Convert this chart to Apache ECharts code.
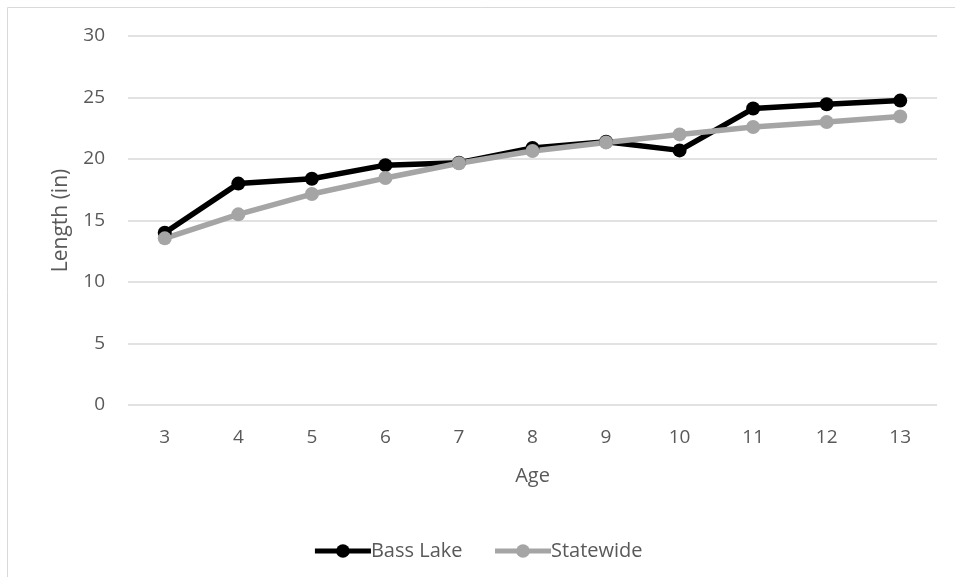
<!DOCTYPE html>
<html>
<head>
<meta charset="utf-8">
<script src="https://cdn.jsdelivr.net/npm/echarts@6/dist/echarts.min.js"></script>
<style>html,body{margin:0;padding:0;background:#fff;}#c{width:955px;height:577px;}</style>
</head>
<body>
<div id="c"></div>
<script>
var ages = ['3','4','5','6','7','8','9','10','11','12','13'];
var bassLake = [14.0, 18.0, 18.4, 19.5, 19.7, 20.9, 21.4, 20.7, 24.1, 24.45, 24.75];
var statewide = [13.55, 15.5, 17.15, 18.45, 19.65, 20.65, 21.35, 22.0, 22.6, 23.0, 23.45];
var yTicks = {min: 0, max: 30, interval: 5};

var FONT = 'Open Sans';
var TXT = '#595959';
var chart = echarts.init(document.getElementById('c'), null, {renderer: 'canvas'});
chart.setOption({
  backgroundColor: '#fff',
  animation: false,
  textStyle: {fontFamily: FONT, color: TXT},
  graphic: [{
    type: 'rect', shape: {x: 7.5, y: 7.5, width: 2000, height: 2000},
    style: {fill: 'none', stroke: '#d9d9d9', lineWidth: 1}, silent: true, z: -10
  }],
  grid: {left: 128, right: 18, top: 36, bottom: 172},
  legend: {
    bottom: 11, left: 'center', itemWidth: 56, itemHeight: 17, itemGap: 30,
    lineStyle: {width: 5},
    textStyle: {fontFamily: FONT, fontSize: 20, color: TXT, padding: [0, 0, 0, -5]},
    data: ['Bass Lake', 'Statewide']
  },
  xAxis: {
    type: 'category', data: ages, boundaryGap: true,
    name: 'Age', nameLocation: 'middle', nameGap: 61,
    nameTextStyle: {fontFamily: FONT, fontSize: 20, color: TXT},
    axisLine: {show: false}, axisTick: {show: false},
    axisLabel: {fontFamily: FONT, fontSize: 19, color: TXT, margin: 23}
  },
  yAxis: {
    type: 'value', min: yTicks.min, max: yTicks.max, interval: yTicks.interval,
    name: 'Length (in)', nameLocation: 'middle', nameGap: 56,
    nameTextStyle: {fontFamily: FONT, fontSize: 21, color: TXT},
    axisLine: {show: false}, axisTick: {show: false},
    axisLabel: {fontFamily: FONT, fontSize: 19, color: TXT, margin: 23},
    splitLine: {lineStyle: {color: '#d9d9d9', width: 1.5}}
  },
  series: [{
    name: 'Bass Lake', type: 'line', data: bassLake,
    symbol: 'circle', symbolSize: 14,
    lineStyle: {color: '#000', width: 5.5}, itemStyle: {color: '#000'}
  }, {
    name: 'Statewide', type: 'line', data: statewide,
    symbol: 'circle', symbolSize: 14,
    lineStyle: {color: '#a5a5a5', width: 5.5}, itemStyle: {color: '#a5a5a5'}
  }]
});
</script>
</body>
</html>
